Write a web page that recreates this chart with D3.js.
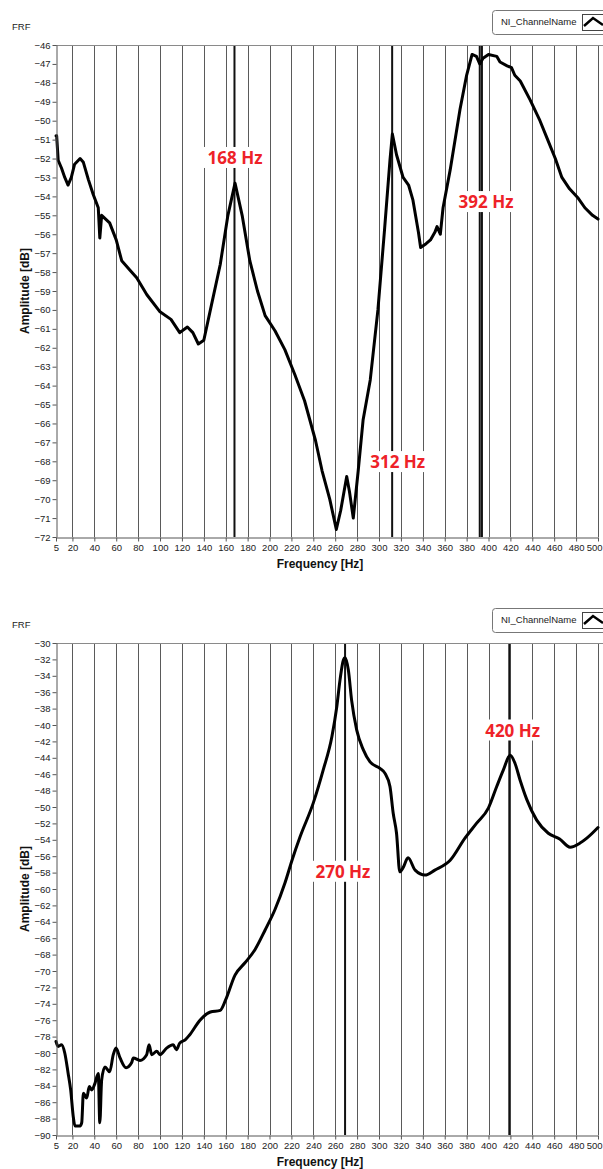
<!DOCTYPE html>
<html>
<head>
<meta charset="utf-8">
<script src="https://cdn.jsdelivr.net/npm/d3@7"></script>
<style>
  html, body { margin: 0; padding: 0; background: #fff; }
  svg { display: block; }
</style>
</head>
<body>
<svg id="chart" width="603" height="1169"></svg>
<script>
// ---- data ----
const xTicks = [5, 20, 40, 60, 80, 100, 120, 140, 160, 180, 200, 220, 240, 260, 280, 300, 320, 340, 360, 380, 400, 420, 440, 460, 480, 500];

const topTicks = d3.range(-46, -72.5, -1);
const topFreq = [5, 5.6, 7, 10, 13, 16, 19, 22, 27, 30, 34.5, 39, 43.6, 45, 46.7, 54, 60, 65, 72.6, 78.7,
  88, 100, 110, 118, 125, 130, 135, 140, 146, 155, 162, 168.5, 175, 182, 189, 196, 205, 214, 223, 232,
  242, 248, 255, 261, 265, 270.5, 273, 276.5, 281, 285.5, 292, 299, 305, 310, 312.2, 316, 322, 327,
  331, 336, 338, 343, 347, 351, 353, 356, 358.5, 365, 374, 380, 385, 389, 392, 395, 400, 407.5,
  410.5, 417, 421, 424, 429, 438, 447, 454, 461, 467, 474, 482, 488, 495, 500];
const topAmp = [-50.8, -50.8, -52.1, -52.5, -53.0, -53.4, -53.0, -52.3, -52.0, -52.2, -53.1, -53.9, -54.6, -56.2, -55.0, -55.4, -56.3, -57.4, -57.9, -58.3,
  -59.2, -60.1, -60.5, -61.2, -60.9, -61.2, -61.8, -61.6, -60.0, -57.6, -55.0, -53.3, -55.0, -57.4, -59.0, -60.3, -61.1, -62.1, -63.4, -64.8,
  -66.9, -68.5, -70.0, -71.6, -70.6, -68.8, -69.6, -71.0, -68.5, -65.8, -63.7, -60.0, -55.8, -52.1, -50.7, -51.8, -53.0, -53.4,
  -54.2, -55.9, -56.7, -56.5, -56.3, -55.9, -55.6, -56.0, -54.6, -52.6, -49.4, -47.6, -46.5, -46.6, -47.0, -46.7, -46.5, -46.6,
  -46.9, -47.1, -47.2, -47.6, -47.9, -48.9, -50.0, -51.0, -52.0, -53.0, -53.6, -54.1, -54.6, -55.0, -55.2];

const bottomTicks = d3.range(-30, -90.5, -2);
const bottomFreq = [5, 7, 10, 13, 16, 18.4, 20.8, 22.3, 27, 28.5, 30, 33, 35.4, 37.6, 40.6, 43.6, 45, 46.7, 49.7, 54,
  57.3, 59.8, 63.5, 69, 74, 75.6, 81.7, 87.8, 90, 92.4, 97, 100, 106, 112, 115, 118, 123, 127, 136.5, 146,
  155, 160, 168.5, 177.6, 186.7, 196, 205, 214, 221, 228, 240, 249, 257, 261.4, 264.4, 267.4, 269, 272, 275,
  279.6, 285.6, 291.8, 300.9, 305.5, 310, 313, 316, 319, 322, 326.5, 333, 342, 351, 365, 378.5, 389, 400,
  407.5, 413.5, 419.7, 424, 428.8, 435, 444, 454.6, 465, 474.5, 483.6, 489.8, 500];
const bottomAmp = [-78.6, -79.2, -79.0, -80.0, -82.4, -84.5, -87.8, -88.9, -88.9, -88.5, -84.9, -85.5, -84.1, -84.5, -83.7, -82.5, -88.5, -83.3, -81.7, -82.3,
  -80.2, -79.4, -80.6, -81.8, -81.2, -80.6, -80.9, -80.2, -79.0, -80.2, -79.8, -80.2, -79.4, -79.0, -79.6, -78.8, -78.4, -77.8, -76.0, -75.0,
  -74.8, -73.5, -70.5, -69.0, -67.4, -65.0, -62.5, -59.3, -56.3, -53.6, -49.5, -45.5, -41.4, -37.8, -34.5, -32.1, -31.8, -33.3, -37.0,
  -40.6, -43.0, -44.5, -45.3, -45.9, -47.5, -50.8, -53.2, -57.9, -57.4, -56.2, -57.7, -58.3, -57.7, -56.5, -53.8, -52.0, -50.1,
  -47.5, -45.5, -43.7, -44.6, -46.7, -49.1, -51.6, -53.2, -53.9, -54.9, -54.4, -53.8, -52.5];

const topMarkers = [168, 312, 392, 394];
const bottomMarkers = [269, 419];
const topLabels = [
  { text: "168 Hz", f: 168.5, v: -51.97 },
  { text: "312 Hz", f: 317, v: -68.04 },
  { text: "392 Hz", f: 397.7, v: -54.3 },
];
const bottomLabels = [
  { text: "270 Hz", f: 267, v: -57.9 },
  { text: "420 Hz", f: 422, v: -40.67 },
];

const svg = d3.select("#chart");
const font = "Tahoma, 'Liberation Sans', 'DejaVu Sans', sans-serif";

function drawPanel(opts) {
  const { top, bottom, yDomain, ticks, freq, amp, markers, labels, curve } = opts;
  const x = d3.scaleLinear().domain([5, 500]).range([56, 598]);
  const y = d3.scaleLinear().domain(yDomain).range([top, bottom]);
  const g = svg.append("g");

  // title + legend
  g.append("text").attr("x", 12).attr("y", top - 15).attr("font-family", font)
    .attr("font-size", 9.5).attr("fill", "#222").text("FRF");

  const lg = g.append("g").attr("transform", `translate(492, ${top - 35})`);
  lg.append("rect").attr("x", 0.5).attr("y", 0.5).attr("width", 120).attr("height", 24)
    .attr("rx", 3).attr("fill", "#fff").attr("stroke", "#777");
  lg.append("text").attr("x", 9).attr("y", 15).attr("font-family", font)
    .attr("font-size", 9.5).attr("fill", "#222").text("NI_ChannelName");
  lg.append("rect").attr("x", 90.5).attr("y", 4.5).attr("width", 22).attr("height", 16)
    .attr("fill", "#fff").attr("stroke", "#444");
  lg.append("path").attr("d", "M92,16 L101,8 L111,15").attr("fill", "none")
    .attr("stroke", "#000").attr("stroke-width", 2.5);

  // grid (vertical lines at ticks)
  g.append("g").selectAll("line").data(xTicks.slice(1)).join("line")
    .attr("x1", (d) => Math.round(x(d)) + 0.5).attr("x2", (d) => Math.round(x(d)) + 0.5)
    .attr("y1", top).attr("y2", bottom)
    .attr("stroke", "#5a5a5a").attr("stroke-width", 1);

  // frequency markers
  g.append("g").selectAll("line").data(markers).join("line")
    .attr("x1", (d) => x(d)).attr("x2", (d) => x(d))
    .attr("y1", top).attr("y2", bottom)
    .attr("stroke", "#111").attr("stroke-width", 2);

  // top frame
  g.append("line").attr("x1", 56).attr("x2", 603).attr("y1", top + 0.5).attr("y2", top + 0.5)
    .attr("stroke", "#8a8a8a");

  // curve
  const line = d3.line().x((d) => x(d[0])).y((d) => y(d[1])).curve(curve);
  g.append("path").datum(d3.zip(freq, amp)).attr("d", line)
    .attr("fill", "none").attr("stroke", "#000").attr("stroke-width", 3)
    .attr("stroke-linejoin", "round").attr("stroke-linecap", "round");

  // axes
  const yAxis = g.append("g").attr("transform", "translate(56.5,0)")
    .call(d3.axisLeft(y).tickValues(ticks).tickSize(4).tickSizeOuter(0).tickFormat(d3.format("d")));
  const xAxis = g.append("g").attr("transform", `translate(0,${bottom + 0.5})`)
    .call(d3.axisBottom(x).tickValues(xTicks).tickSize(4).tickSizeOuter(0).tickFormat(d3.format("d")));
  for (const ax of [yAxis, xAxis]) {
    ax.select(".domain").attr("stroke", "#555");
    ax.selectAll(".tick line").attr("stroke", "#555");
    ax.selectAll("text").attr("font-family", font).attr("font-size", 9.5).attr("fill", "#222");
  }
  yAxis.selectAll("text").attr("x", -6);
  xAxis.selectAll("text").attr("y", 7);
  // last label sits at the right edge, keep it inside the window
  xAxis.selectAll(".tick").filter((d) => d === 500).select("text")
    .attr("text-anchor", "end").attr("x", 4);

  g.append("text").attr("x", 320).attr("y", bottom + 31).attr("text-anchor", "middle")
    .attr("font-family", font).attr("font-weight", "bold").attr("font-size", 12)
    .attr("fill", "#111").text("Frequency [Hz]");
  g.append("text")
    .attr("transform", `translate(29, ${(top + bottom) / 2}) rotate(-90)`)
    .attr("text-anchor", "middle").attr("font-family", font).attr("font-weight", "bold")
    .attr("font-size", 12).attr("fill", "#111").text("Amplitude [dB]");

  // red frequency annotations with white backing
  const ann = g.append("g").selectAll("g").data(labels).join("g")
    .attr("transform", (d) => `translate(${x(d.f)},${y(d.v)})`);
  ann.append("rect").attr("x", -32).attr("y", -11).attr("width", 64).attr("height", 21)
    .attr("fill", "#fff");
  ann.append("text").attr("text-anchor", "middle").attr("dy", "0.36em")
    .attr("font-family", "'Open Sans', 'Noto Sans', sans-serif").attr("font-weight", "bold")
    .attr("font-size", 17).attr("fill", "#ee2228").text((d) => d.text);
}

drawPanel({ top: 45, bottom: 537, yDomain: [-46, -72], ticks: topTicks, freq: topFreq, amp: topAmp,
  markers: topMarkers, labels: topLabels, curve: d3.curveLinear });
drawPanel({ top: 643, bottom: 1135, yDomain: [-30, -90], ticks: bottomTicks, freq: bottomFreq, amp: bottomAmp,
  markers: bottomMarkers, labels: bottomLabels, curve: d3.curveMonotoneX });
</script>
</body>
</html>
